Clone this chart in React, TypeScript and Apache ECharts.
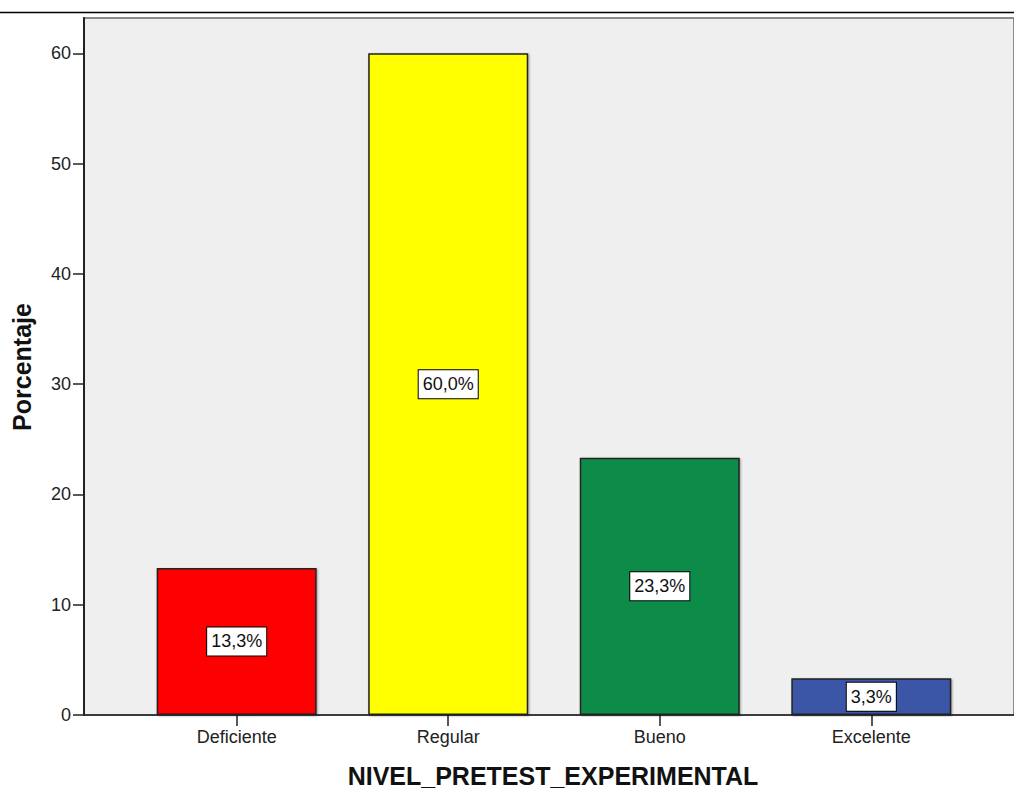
import React, { useEffect, useRef } from "react";
import * as echarts from "echarts";

const categories = ["Deficiente", "Regular", "Bueno", "Excelente"];
const percentages = [13.33, 60.0, 23.33, 3.33];
const barColors = ["#ff0000", "#ffff00", "#118c4a", "#3b55a7"];
const yTicks = [0, 10, 20, 30, 40, 50, 60];
const xTitle = "NIVEL_PRETEST_EXPERIMENTAL";
const yTitle = "Porcentaje";

const FONT = "'Liberation Sans', Arial, sans-serif";

export default function App() {
  const ref = useRef<HTMLDivElement>(null);
  useEffect(() => {
    if (!ref.current) return;
    const chart = echarts.init(ref.current, undefined, { renderer: "svg" });
    const catIdx = categories.map((_, i) => i);
    chart.setOption({
      animation: false,
      grid: {
        left: 84,
        top: 18,
        right: -2,
        bottom: 77,
        show: true,
        backgroundColor: "#efefef",
        borderColor: "#8a8a8a",
        borderWidth: 2,
      },
      xAxis: {
        type: "value",
        min: -0.7217,
        max: 3.6745,
        splitLine: { show: false },
        axisLine: { show: true, onZero: false, lineStyle: { color: "#222", width: 1.5 } },
        axisTick: { show: true, length: 11, customValues: catIdx, lineStyle: { color: "#222", width: 1.5 } },
        axisLabel: {
          customValues: catIdx,
          margin: 13,
          fontSize: 18,
          fontFamily: FONT,
          color: "#222",
          formatter: (v: number) => categories[Math.round(v)] ?? "",
        },
      },
      yAxis: {
        type: "value",
        min: 0,
        max: 63.2,
        splitLine: { show: false },
        axisLine: { show: true, onZero: false, lineStyle: { color: "#222", width: 2 } },
        axisTick: { show: true, length: 11, customValues: yTicks, lineStyle: { color: "#222", width: 1.5 } },
        axisLabel: {
          customValues: yTicks,
          margin: 13,
          fontSize: 18,
          fontFamily: FONT,
          color: "#222",
        },
      },
      series: [
        {
          type: "bar",
          barWidth: 160,
          data: percentages.map((v, i) => ({
            value: [i, v],
            itemStyle: { color: barColors[i] },
          })),
          itemStyle: {
            borderColor: "#222",
            borderWidth: 1.5,
            shadowColor: "rgba(0,0,0,0.35)",
            shadowBlur: 2,
            shadowOffsetX: 1,
            shadowOffsetY: 1,
          },
          label: {
            show: true,
            position: "inside",
            formatter: (p: any) => p.value[1].toFixed(1).replace(".", ",") + "%",
            backgroundColor: "#ffffff",
            borderColor: "#000",
            borderWidth: 1,
            padding: [5, 4, 5, 4],
            color: "#111",
            fontSize: 18,
            fontFamily: FONT,
          },
        },
      ],
      graphic: [
        {
          type: "line",
          shape: { x1: 0, y1: 12.5, x2: 1014, y2: 12.5 },
          style: { stroke: "#000", lineWidth: 1.5 },
        },
        {
          type: "text",
          x: 22,
          y: 367,
          rotation: Math.PI / 2,
          style: {
            text: yTitle,
            align: "center",
            verticalAlign: "middle",
            font: `bold 25px ${FONT}`,
            fill: "#111",
          },
        },
        {
          type: "text",
          x: 553,
          y: 776,
          style: {
            text: xTitle,
            align: "center",
            verticalAlign: "middle",
            font: `bold 25px ${FONT}`,
            fill: "#111",
          },
        },
      ],
    });
    return () => chart.dispose();
  }, []);
  return (
    <div
      ref={ref}
      style={{ position: "fixed", left: 0, top: 0, width: 1014, height: 792, background: "#fff" }}
    />
  );
}
